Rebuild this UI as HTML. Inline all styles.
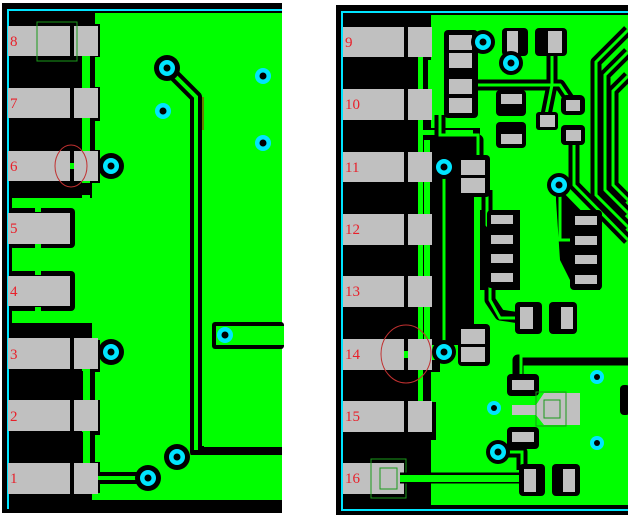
<!DOCTYPE html>
<html><head><style>
html,body{margin:0;padding:0;background:#fff;width:628px;height:517px;overflow:hidden}
svg{display:block}
text{font-family:"Liberation Serif",serif;font-size:15px;fill:#e8202a}
</style></head><body>
<svg width="628" height="517" viewBox="0 0 628 517" xmlns="http://www.w3.org/2000/svg">
<rect width="628" height="517" fill="#fff"/>
<!-- LEFT PANEL -->
<rect x="2" y="3" width="280" height="510" fill="#000"/>
<rect x="8" y="9" width="274" height="2" fill="#00e5ff"/>
<rect x="7" y="9" width="2" height="500" fill="#00e5ff"/>
<rect x="7" y="498" width="275" height="2" fill="#00e5ff"/>
<rect x="9" y="11" width="273" height="487" fill="#000"/>
<path d="M95,13 H282 V500 H92 V493 H100 V462 H95 V435 H100 V400 H95 V372 H100 V340 H92 V323 H12 V198 H92 V183 H100 V150 H95 V121 H100 V87 H95 V57 H100 V24 H95Z" fill="#00ff00"/>
<rect x="82" y="56" width="8" height="345" fill="#00ff00"/>
<rect x="82" y="400" width="8" height="65" fill="#00ff00"/>
<rect x="9" y="183" width="82" height="12" fill="#000"/>
<rect x="9" y="323" width="83" height="16" fill="#000"/>
<rect x="9" y="371" width="74" height="29" fill="#000"/>
<rect x="9" y="432" width="74" height="31" fill="#000"/>
<rect x="9" y="494" width="83" height="6" fill="#000"/>
<rect x="9" y="57" width="73" height="31" fill="#000"/>
<rect x="9" y="119" width="73" height="32" fill="#000"/>
<rect x="9" y="208" width="66" height="40" fill="#000" rx="4"/>
<rect x="9" y="271" width="66" height="40" fill="#000" rx="4"/>
<rect x="35" y="208" width="6" height="4" fill="#00ff00"/><rect x="35" y="244" width="6" height="4" fill="#00ff00"/>
<rect x="35" y="271" width="6" height="4" fill="#00ff00"/><rect x="35" y="307" width="6" height="4" fill="#00ff00"/>
<g fill="#c0c0c0">
<rect x="8" y="26" width="62" height="30"/><rect x="74" y="26" width="24" height="30"/>
<rect x="8" y="88" width="62" height="30"/><rect x="74" y="88" width="24" height="30"/>
<rect x="8" y="151" width="62" height="30"/><rect x="74" y="151" width="24" height="30"/>
<rect x="8" y="213" width="62" height="31"/>
<rect x="8" y="276" width="62" height="30"/>
<rect x="8" y="338" width="62" height="31"/><rect x="74" y="338" width="24" height="31"/>
<rect x="8" y="400" width="62" height="31"/><rect x="74" y="400" width="24" height="31"/>
<rect x="8" y="463" width="62" height="31"/><rect x="74" y="463" width="24" height="31"/>
</g>
<rect x="70" y="163" width="4" height="6" fill="#00ff00"/>
<rect x="37" y="22" width="40" height="39" fill="none" stroke="#1a9a1a" stroke-width="1"/>
<ellipse cx="71" cy="166" rx="16" ry="21" fill="none" stroke="#c03030" stroke-width="1"/>
<g>
<text x="10" y="46">8</text><text x="10" y="108">7</text><text x="10" y="171">6</text>
<text x="10" y="233">5</text><text x="10" y="296">4</text><text x="10" y="359">3</text>
<text x="10" y="421">2</text><text x="10" y="483">1</text>
</g>
<g fill="none" stroke="#000" stroke-width="12" stroke-linejoin="round">
<polyline points="167,68 196,97 196,452 282,452"/>
<line x1="98" y1="478" x2="148" y2="478"/>
</g>
<g fill="none" stroke="#00ff00" stroke-width="4">
<polyline points="167,68 196,97 196,450"/>
<line x1="98" y1="478" x2="148" y2="478"/>
<line x1="177" y1="457" x2="282" y2="457"/>
</g>
<rect x="204" y="97" width="78" height="350" fill="#00ff00"/>
<line x1="203" y1="97" x2="203" y2="130" stroke="#c00" stroke-width="1"/>
<rect x="212" y="322" width="72" height="27" rx="3" fill="#000"/>
<rect x="216" y="326" width="68" height="19" fill="#00ff00"/>
<g>
<circle cx="167" cy="68" r="13" fill="#000"/><circle cx="111" cy="166" r="13" fill="#000"/>
<circle cx="111" cy="352" r="13" fill="#000"/><circle cx="148" cy="478" r="13" fill="#000"/>
<circle cx="177" cy="457" r="13" fill="#000"/>
</g>
<g fill="#00e5ff">
<circle cx="167" cy="68" r="8"/><circle cx="111" cy="166" r="8"/><circle cx="111" cy="352" r="8"/>
<circle cx="148" cy="478" r="8"/><circle cx="177" cy="457" r="8"/>
<circle cx="163" cy="111" r="8"/><circle cx="263" cy="76" r="8"/><circle cx="263" cy="143" r="8"/>
<circle cx="225" cy="335" r="8"/>
</g>
<g fill="#000">
<circle cx="167" cy="68" r="3.5"/><circle cx="111" cy="166" r="3.5"/><circle cx="111" cy="352" r="3.5"/>
<circle cx="148" cy="478" r="3.5"/><circle cx="177" cy="457" r="3.5"/>
<circle cx="163" cy="111" r="3.5"/><circle cx="263" cy="76" r="3.5"/><circle cx="263" cy="143" r="3.5"/>
<circle cx="225" cy="335" r="3.5"/>
</g>

<!-- RIGHT PANEL -->
<rect x="336" y="5" width="292" height="510" fill="#000"/>
<rect x="342" y="11" width="286" height="2" fill="#00e5ff"/>
<rect x="341" y="11" width="2" height="500" fill="#00e5ff"/>
<rect x="341" y="509" width="287" height="2" fill="#00e5ff"/>
<path d="M431,15 H628 V505 H431 V440 H436 V402 H431 V372 H440 V360 H424 V140 H480 V128 H431 V93 H428 V60 H431Z" fill="#00ff00"/>
<rect x="418" y="57" width="5" height="345" fill="#00ff00"/>
<rect x="423" y="130" width="50" height="5" fill="#00ff00"/>
<rect x="430" y="135" width="44" height="210" fill="#000"/>
<g fill="#c0c0c0">
<rect x="343" y="27" width="61" height="30"/><rect x="408" y="27" width="24" height="30"/>
<rect x="343" y="89" width="61" height="31"/><rect x="408" y="89" width="24" height="31"/>
<rect x="343" y="152" width="61" height="30"/><rect x="408" y="152" width="24" height="30"/>
<rect x="343" y="214" width="61" height="31"/><rect x="408" y="214" width="24" height="31"/>
<rect x="343" y="276" width="61" height="31"/><rect x="408" y="276" width="24" height="31"/>
<rect x="343" y="339" width="61" height="31"/><rect x="408" y="339" width="24" height="31"/>
<rect x="343" y="401" width="61" height="31"/><rect x="408" y="401" width="24" height="31"/>
<rect x="343" y="463" width="61" height="31"/>
</g>
<rect x="404" y="351" width="4" height="7" fill="#00ff00"/>
<ellipse cx="406" cy="354" rx="25" ry="29" fill="none" stroke="#c03030" stroke-width="1"/>
<g fill="none" stroke="#1a9a1a" stroke-width="1">
<rect x="371" y="459" width="35" height="39"/><rect x="380" y="468" width="17" height="21"/>
</g>
<g>
<text x="345" y="47">9</text><text x="345" y="109">10</text><text x="345" y="172">11</text>
<text x="345" y="234">12</text><text x="345" y="296">13</text><text x="345" y="359">14</text>
<text x="345" y="421">15</text><text x="345" y="483">16</text>
</g>
<g fill="none" stroke="#000" stroke-width="11" stroke-linejoin="round">
<polyline points="628,30 596,62 596,195 628,227"/>
<polyline points="628,52 605,75 605,190 628,213"/>
<polyline points="628,76 613,91 613,185 628,200"/>
<polyline points="574,135 574,185 628,240"/>
<polyline points="552,45 552,85 545,120"/>
<polyline points="462,85 560,85 570,100"/>
<polyline points="440,115 440,140 478,140 478,160"/>
<polyline points="487,190 487,225 500,235"/>
<polyline points="495,260 490,270 490,300 500,315 520,318"/>
<polyline points="518,386 518,360 628,360"/>
<polyline points="444,167 444,352"/>
<polyline points="498,452 522,452 522,470"/>
<polyline points="400,478 524,478"/>
<polyline points="470,352 470,330"/>
</g>
<path d="M556,185 L600,230 L600,290 L575,290 L560,260 L556,200Z" fill="#000"/>
<path d="M480,210 L520,210 L520,290 L480,290Z" fill="#000"/>
<g fill="none" stroke="#00ff00" stroke-width="3">
<polyline points="628,30 596,62 596,195 628,227"/>
<polyline points="628,52 605,75 605,190 628,213"/>
<polyline points="628,76 613,91 613,185 628,200"/>
<polyline points="574,135 574,185 628,240"/>
<polyline points="552,45 552,85 545,120"/>
<polyline points="462,85 560,85 570,100"/>
<polyline points="440,115 440,135 478,135 478,165"/>
<polyline points="487,190 487,225 500,240"/>
<polyline points="495,260 490,270 490,300 500,318 520,318"/>
<polyline points="521,386 521,356 628,356"/>
<polyline points="444,167 444,352"/>
<polyline points="498,452 522,452 522,470"/>
<polyline points="560,185 560,240 575,240"/>
<polyline points="600,280 628,280"/>
</g>
<rect x="400" y="475" width="124" height="7" fill="#00ff00"/>
<g fill="#000">
<rect x="444" y="30" width="34" height="88" rx="4"/>
<rect x="502" y="28" width="26" height="28" rx="4"/>
<rect x="535" y="28" width="32" height="28" rx="4"/>
<rect x="496" y="90" width="30" height="26" rx="4"/>
<rect x="496" y="122" width="30" height="26" rx="4"/>
<rect x="536" y="112" width="22" height="18" rx="3"/>
<rect x="561" y="95" width="24" height="20" rx="5"/>
<rect x="561" y="125" width="24" height="20" rx="4"/>
<rect x="456" y="155" width="34" height="42" rx="4"/>
<rect x="487" y="210" width="30" height="78" rx="4"/>
<rect x="570" y="210" width="32" height="80" rx="4"/>
<rect x="515" y="302" width="27" height="32" rx="4"/>
<rect x="549" y="302" width="28" height="32" rx="4"/>
<rect x="458" y="324" width="32" height="42" rx="4"/>
<rect x="507" y="374" width="32" height="22" rx="4"/>
<rect x="507" y="427" width="32" height="22" rx="4"/>
<rect x="519" y="464" width="26" height="32" rx="4"/>
<rect x="552" y="464" width="28" height="32" rx="4"/>
<rect x="620" y="385" width="10" height="30" rx="4"/>
</g>
<g fill="#c0c0c0">
<rect x="449" y="35" width="23" height="15"/><rect x="449" y="53" width="23" height="15"/>
<rect x="449" y="79" width="23" height="15"/><rect x="449" y="98" width="23" height="15"/>
<rect x="507" y="31" width="11" height="22"/><rect x="548" y="31" width="14" height="22"/>
<rect x="501" y="94" width="21" height="10"/><rect x="501" y="134" width="21" height="10"/>
<rect x="540" y="115" width="15" height="12"/>
<rect x="566" y="100" width="14" height="11"/><rect x="566" y="130" width="15" height="11"/>
<rect x="461" y="160" width="24" height="15"/><rect x="461" y="178" width="24" height="15"/>
<rect x="491" y="215" width="22" height="9"/><rect x="491" y="235" width="22" height="9"/>
<rect x="491" y="254" width="22" height="9"/><rect x="491" y="273" width="22" height="9"/>
<rect x="575" y="216" width="22" height="9"/><rect x="575" y="236" width="22" height="9"/>
<rect x="575" y="255" width="22" height="9"/><rect x="575" y="275" width="22" height="9"/>
<rect x="520" y="307" width="13" height="22"/><rect x="561" y="307" width="12" height="22"/>
<rect x="461" y="329" width="24" height="15"/><rect x="461" y="347" width="24" height="15"/>
<rect x="512" y="380" width="22" height="10"/><rect x="512" y="432" width="22" height="10"/>
<path d="M512,405 H536 L544,393 H580 V425 H544 L536,415 H512Z"/>
<rect x="524" y="469" width="12" height="23"/><rect x="563" y="469" width="12" height="23"/>
</g>
<g fill="none" stroke="#1a9a1a" stroke-width="1">
<rect x="536" y="392" width="30" height="34"/><rect x="544" y="400" width="16" height="18"/>
</g>
<g fill="#000">
<circle cx="483" cy="42" r="12"/><circle cx="511" cy="63" r="12"/><circle cx="444" cy="167" r="12"/>
<circle cx="559" cy="185" r="12"/><circle cx="444" cy="352" r="12"/><circle cx="498" cy="452" r="12"/>
</g>
<g fill="#00e5ff">
<circle cx="483" cy="42" r="8"/><circle cx="511" cy="63" r="8"/><circle cx="444" cy="167" r="8"/>
<circle cx="559" cy="185" r="8"/><circle cx="444" cy="352" r="8"/><circle cx="498" cy="452" r="8"/>
<circle cx="597" cy="377" r="7"/><circle cx="494" cy="408" r="7"/><circle cx="597" cy="443" r="7"/>
</g>
<g fill="#000">
<circle cx="483" cy="42" r="3.5"/><circle cx="511" cy="63" r="3.5"/><circle cx="444" cy="167" r="3.5"/>
<circle cx="559" cy="185" r="3.5"/><circle cx="444" cy="352" r="3.5"/><circle cx="498" cy="452" r="3.5"/>
<circle cx="597" cy="377" r="3"/><circle cx="494" cy="408" r="3"/><circle cx="597" cy="443" r="3"/>
</g>
</svg>
</body></html>
